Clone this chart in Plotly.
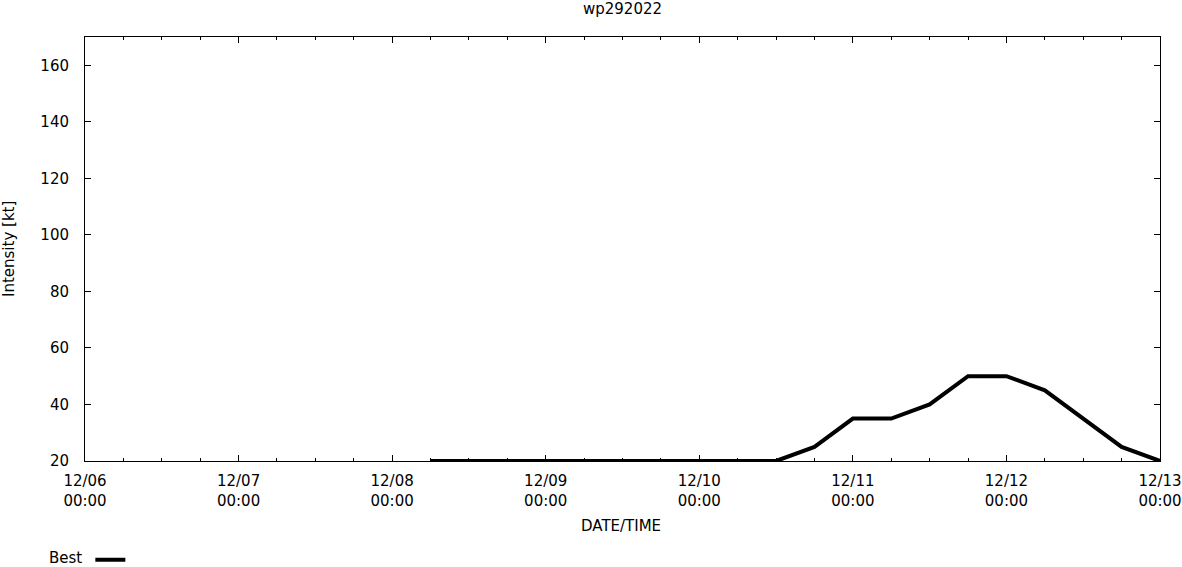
import plotly.graph_objects as go

times = [
    "2022-12-08 06:00", "2022-12-08 12:00", "2022-12-08 18:00",
    "2022-12-09 00:00", "2022-12-09 06:00", "2022-12-09 12:00", "2022-12-09 18:00",
    "2022-12-10 00:00", "2022-12-10 06:00", "2022-12-10 12:00", "2022-12-10 18:00",
    "2022-12-11 00:00", "2022-12-11 06:00", "2022-12-11 12:00", "2022-12-11 18:00",
    "2022-12-12 00:00", "2022-12-12 06:00", "2022-12-12 12:00", "2022-12-12 18:00",
    "2022-12-13 00:00",
]
intensity = [20, 20, 20, 20, 20, 20, 20, 20, 20, 20, 25,
             35, 35, 40, 50, 50, 45, 35, 25, 20]

series_name = "Best"
title_text = "wp292022"
x_title = "DATE/TIME"
y_title = "Intensity [kt]"
x_range = ["2022-12-06 00:00", "2022-12-13 00:00"]
y_range = [20, 170]

FONT = "DejaVu Sans"
FS = 15

fig = go.Figure()
fig.add_trace(go.Scatter(
    x=times, y=intensity, mode="lines", name=" ",
    line=dict(color="black", width=4),
    cliponaxis=False, showlegend=True,
))

W, H = 1182, 567
L, R, T, B = 85, 22, 37, 106
pw, ph = W - L - R, H - T - B

fig.update_layout(
    width=W, height=H,
    margin=dict(l=L, r=R, t=T, b=B, autoexpand=False),
    paper_bgcolor="white", plot_bgcolor="white",
    font=dict(family=FONT, size=FS, color="black"),
    title=dict(text=title_text, x=0.5, xref="paper", y=1 - 9 / H,
               yref="container", xanchor="center", yanchor="middle",
               font=dict(family=FONT, size=FS, color="black")),
    showlegend=True,
    legend=dict(
        title=dict(text=series_name, side="left", font=dict(size=FS)),
        xref="container", yref="container",
        x=47 / W, xanchor="left",
        y=1 - 560 / H, yanchor="middle",
        bgcolor="rgba(0,0,0,0)", borderwidth=0,
        font=dict(size=FS),
    ),
    xaxis=dict(
        type="date", range=x_range,
        tickformat="%m/%d<br>%H:%M", dtick=86400000, tick0="2022-12-06",
        ticks="inside", ticklen=6, tickwidth=1, tickcolor="black",
        minor=dict(dtick=6 * 3600000, ticks="inside", ticklen=3,
                   tickwidth=1, tickcolor="black", showgrid=False),
        showline=True, linecolor="black", linewidth=1, mirror="ticks",
        showgrid=False, zeroline=False, ticklabelstandoff=6,
    ),
    yaxis=dict(
        range=y_range, tickvals=[20, 40, 60, 80, 100, 120, 140, 160],
        ticks="inside", ticklen=6, tickwidth=1, tickcolor="black",
        showline=True, linecolor="black", linewidth=1, mirror="ticks",
        showgrid=False, zeroline=False, ticklabelstandoff=12,
    ),
    annotations=[
        dict(text=x_title, xref="paper", yref="paper",
             x=(621 - L) / pw, y=(T + ph - 526) / ph,
             xanchor="center", yanchor="middle", showarrow=False,
             font=dict(family=FONT, size=FS)),
        dict(text=y_title, xref="paper", yref="paper",
             x=(9 - L) / pw, y=0.5, textangle=-90,
             xanchor="center", yanchor="middle", showarrow=False,
             font=dict(family=FONT, size=FS)),
    ],
)

fig.write_html(
    "out.html",
    config={"displayModeBar": False},
    post_script="document.body.style.margin='0';document.body.style.overflow='hidden';",
)
